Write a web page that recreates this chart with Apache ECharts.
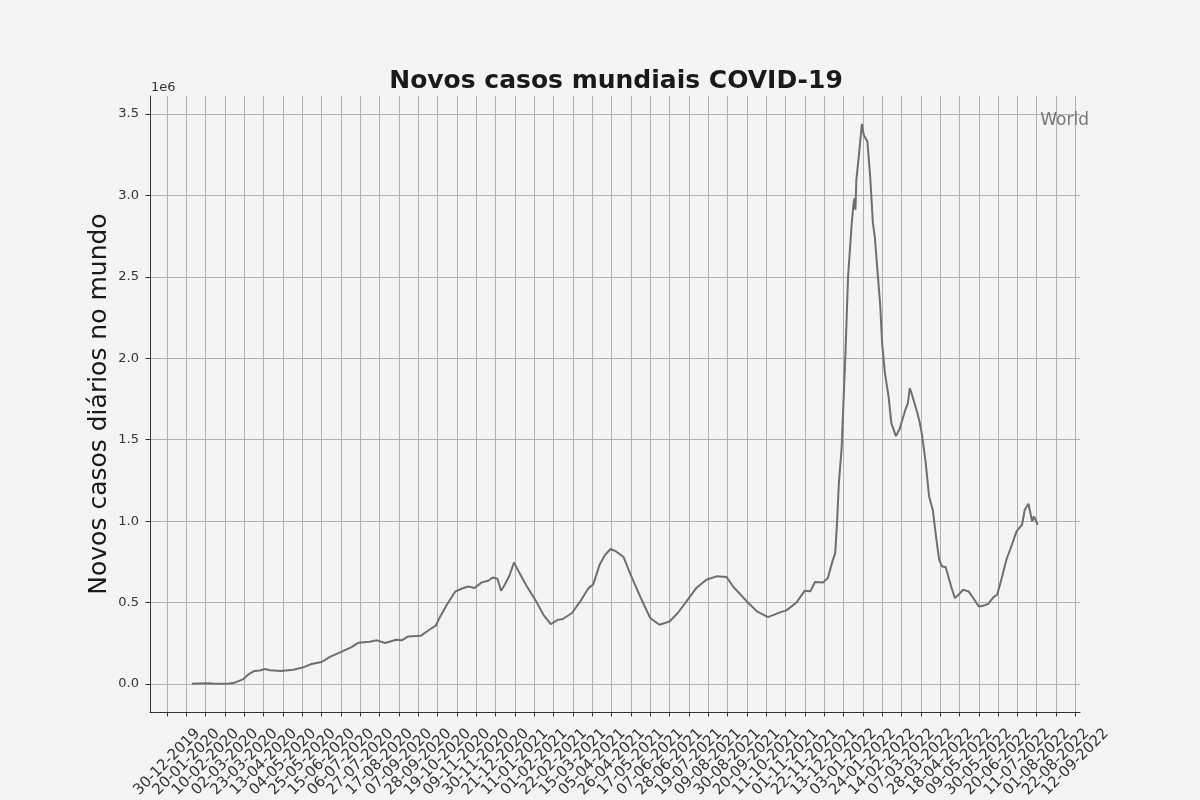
<!DOCTYPE html>
<html>
<head>
<meta charset="utf-8">
<title>Novos casos mundiais COVID-19</title>
<script src="https://cdn.jsdelivr.net/npm/echarts@6/dist/echarts.min.js"></script>
<style>
  html, body { margin: 0; padding: 0; background: #f4f4f4; }
  #chart { width: 1200px; height: 800px; }
</style>
</head>
<body>
<div id="chart"></div>
<script type="text/javascript">
// tick labels on the x axis (every 3 weeks)
var tickLabels = ['30-12-2019','20-01-2020','10-02-2020','02-03-2020','23-03-2020','13-04-2020',
  '04-05-2020','25-05-2020','15-06-2020','06-07-2020','27-07-2020','17-08-2020','07-09-2020',
  '28-09-2020','19-10-2020','09-11-2020','30-11-2020','21-12-2020','11-01-2021','01-02-2021',
  '22-02-2021','15-03-2021','05-04-2021','26-04-2021','17-05-2021','07-06-2021','28-06-2021',
  '19-07-2021','09-08-2021','30-08-2021','20-09-2021','11-10-2021','01-11-2021','22-11-2021',
  '13-12-2021','03-01-2022','24-01-2022','14-02-2022','07-03-2022','28-03-2022','18-04-2022',
  '09-05-2022','30-05-2022','20-06-2022','11-07-2022','01-08-2022','22-08-2022','12-09-2022'];

var yTicks = [0, 500000, 1000000, 1500000, 2000000, 2500000, 3000000, 3500000];

// days since 30-12-2019
var dayIndex = [27,35,43,50,58,68,73,77,83,88,95,101,106,112,124,137,148,157,168,177,188,200,208,
  220,228,237,249,255,262,276,285,292,296,304,313,320,327,334,342,349,354,359,363,367,372,377,383,
  391,400,409,417,425,430,440,449,458,463,470,476,482,488,496,503,514,525,535,546,555,566,575,586,
  597,608,615,630,641,653,666,673,684,693,699,704,713,718,723,726,728,730,733,737,740,744,746,747,
  748,749,752,755,757,761,764,767,769,773,775,777,780,784,787,792,796,802,805,807,809,811,815,818,
  820,824,828,832,836,839,842,846,852,856,860,865,871,876,882,887,892,898,902,907,912,918,923,929,
  932,936,940,942,944,946];

// daily new cases in the world
var cases = [1000,3000,5000,3000,2000,3000,8000,16000,30000,57000,80000,83000,92000,84000,80000,
  88000,102000,123000,135000,166000,194000,225000,254000,260000,268000,252000,272000,268000,292000,
  297000,333000,358000,405000,487000,567000,585000,599000,589000,624000,634000,654000,646000,573000,
  610000,665000,746000,681000,599000,518000,425000,368000,395000,399000,436000,507000,589000,610000,
  732000,794000,829000,814000,780000,681000,538000,405000,364000,384000,436000,520000,589000,640000,
  661000,657000,599000,507000,446000,411000,440000,452000,501000,573000,569000,626000,624000,651000,
  753000,804000,988000,1234000,1449000,2011000,2502000,2830000,2953000,2983000,2912000,3096000,
  3260000,3440000,3372000,3331000,3116000,2830000,2748000,2462000,2318000,2093000,1909000,1766000,
  1602000,1522000,1566000,1680000,1725000,1817000,1786000,1780000,1670000,1602000,1541000,1377000,
  1152000,1070000,886000,763000,722000,718000,599000,528000,548000,579000,569000,528000,476000,
  481000,491000,534000,548000,651000,763000,855000,937000,978000,1070000,1107000,998000,1029000,
  1019000,978000];

var origin = Date.UTC(2019, 11, 30);
var tickDays = tickLabels.map(function (s) {
  var p = s.split('-');
  return Math.round((Date.UTC(+p[2], +p[1] - 1, +p[0]) - origin) / 86400000);
});
var labelByDay = {};
tickDays.forEach(function (d, i) { labelByDay[d] = tickLabels[i]; });

// echarts drops the label next to the first/last one when rotated labels touch,
// so those two go on a second, label-only axis
var last = tickDays.length - 1;
var extraDays = [tickDays[1], tickDays[last - 1]];
var mainDays = tickDays.filter(function (d) { return extraDays.indexOf(d) < 0; });

var font = 'DejaVu Sans';
var myChart = echarts.init(document.getElementById('chart'));

var xLabel = function (days) {
    return {
        customValues: days,
        showMinLabel: true,
        showMaxLabel: true,
        rotate: 45,
        align: 'center',
        verticalAlign: 'middle',
        margin: 50,
        fontFamily: font,
        fontSize: 15,
        color: '#333333',
        formatter: function (v) { return labelByDay[Math.round(v)] || ''; }
    };
};

var option = {
    backgroundColor: '#f4f4f4',
    animation: false,
    title: {
        text: 'Novos casos mundiais COVID-19',
        left: 611,
        textAlign: 'center',
        top: 64,
        textStyle: { fontFamily: font, fontSize: 25, fontWeight: 'bold', color: '#1a1a1a' }
    },
    legend: {
        data: ['World'],
        right: 106,
        top: 107,
        itemWidth: 0,
        itemHeight: 0,
        textStyle: { fontFamily: font, fontSize: 17, color: '#777777' }
    },
    graphic: [{
        type: 'text',
        left: 151,
        top: 81,
        style: { text: '1e6', font: '13px "DejaVu Sans"', fill: '#333333' }
    }],
    grid: {
        left: 150,
        right: 120,
        top: 96,
        bottom: 88,
        containLabel: false,
        outerBoundsMode: 'none'
    },
    xAxis: [{
        type: 'value',
        min: -18.5,
        max: 992,
        axisLine: { show: true, onZero: false, lineStyle: { color: '#333333', width: 1 } },
        axisTick: { show: true, length: 4.5, customValues: tickDays, lineStyle: { color: '#333333' } },
        axisLabel: xLabel(mainDays),
        splitLine: { show: true, lineStyle: { color: '#b0b0b0', width: 1 } }
    }, {
        type: 'value',
        position: 'bottom',
        min: -18.5,
        max: 992,
        axisLine: { show: false },
        axisTick: { show: false },
        splitLine: { show: false },
        axisLabel: xLabel(extraDays)
    }],
    yAxis: {
        type: 'value',
        min: -172000,
        max: 3611000,
        name: 'Novos casos diários no mundo',
        nameLocation: 'middle',
        nameGap: 38,
        nameMoveOverlap: false,
        nameTextStyle: { fontFamily: font, fontSize: 25, color: '#1a1a1a' },
        axisLine: { show: true, onZero: false, lineStyle: { color: '#333333', width: 1 } },
        axisTick: { show: true, length: 4.5, customValues: yTicks, lineStyle: { color: '#333333' } },
        axisLabel: {
            customValues: yTicks,
            margin: 11,
            fontFamily: font,
            fontSize: 13,
            color: '#333333',
            formatter: function (v) { return (v / 1e6).toFixed(1); }
        },
        splitLine: { show: true, lineStyle: { color: '#b0b0b0', width: 1 } }
    },
    series: [{
        name: 'World',
        type: 'line',
        xAxisIndex: 0,
        showSymbol: false,
        symbol: 'none',
        lineStyle: { color: '#6f6f6f', width: 2 },
        itemStyle: { color: '#6f6f6f' },
        data: dayIndex.map(function (d, i) { return [d, cases[i]]; })
    }]
};
myChart.setOption(option);
</script>
</body>
</html>
